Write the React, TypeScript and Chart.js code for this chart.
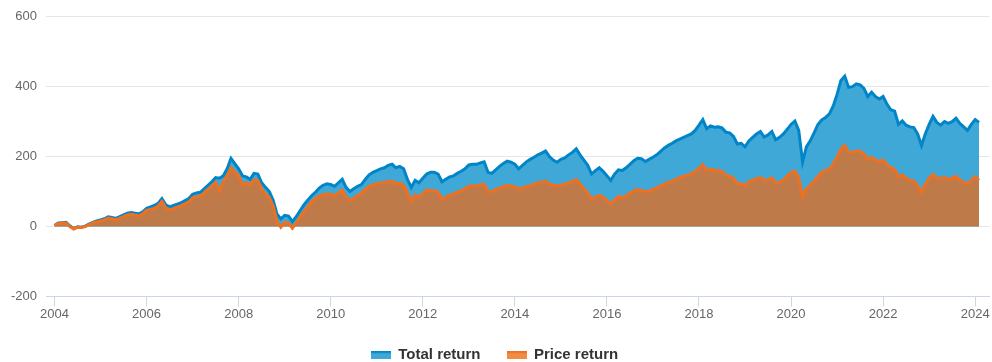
import React, { useEffect, useRef } from "react";
import { Chart, registerables } from "chart.js";

Chart.register(...registerables);

// Monthly observations starting January 2004
const startYear = 2004;

const totalReturn: number[] = [
  // 2004
  3, 10, 11, 12, 2, -6, -1, -2, 1, 7, 12, 16,
  // 2005
  19, 22, 28, 26, 23, 28, 33, 38, 40, 38, 36, 42,
  // 2006
  52, 56, 60, 66, 80, 62, 56, 60, 64, 68, 74, 80,
  // 2007
  92, 96, 98, 108, 118, 128, 140, 138, 145, 165, 195, 180,
  // 2008
  165, 145, 142, 135, 152, 150, 125, 112, 100, 75, 35, 22,
  // 2009
  32, 30, 14, 28, 45, 62, 75, 88, 98, 110, 118, 122,
  // 2010
  120, 115, 125, 135, 112, 100, 108, 115, 120, 135, 148, 155,
  // 2011
  160, 165, 168, 175, 178, 168, 172, 165, 135, 112, 132, 125,
  // 2012
  138, 150, 155, 155, 150, 128, 135, 142, 145, 152, 158, 165,
  // 2013
  176, 178, 178, 182, 185, 155, 152, 162, 172, 180, 187, 184,
  // 2014
  178, 165, 175, 185, 192, 198, 205, 210, 216, 200, 190, 184,
  // 2015
  192, 196, 205, 212, 222, 205, 190, 175, 150, 160, 168, 158,
  // 2016
  145, 132, 150, 162, 160, 168, 178, 188, 195, 194, 186, 192,
  // 2017
  198, 205, 215, 225, 232, 238, 245, 250, 255, 260, 265, 275,
  // 2018
  290, 306, 280, 288, 284, 285, 282, 270, 268, 258, 236, 238,
  // 2019
  228, 245, 255, 265, 272, 256, 262, 272, 248, 255, 265, 278,
  // 2020
  292, 302, 275, 185, 228, 245, 268, 292, 305, 312, 322, 345,
  // 2021
  378, 418, 430, 398, 400, 408, 405, 395, 372, 384, 372, 365,
  // 2022
  372, 350, 334, 330, 292, 302, 290, 285, 283, 265, 232, 265,
  // 2023
  292, 315, 298, 290, 300, 295, 300, 310, 295, 285, 275, 292,
  // 2024
  306, 298,
];

const priceReturn: number[] = [
  // 2004
  3, 9, 10, 10, 0, -7, -2, -3, 0, 5, 10, 13,
  // 2005
  16, 19, 24, 22, 19, 24, 28, 33, 35, 33, 30, 36,
  // 2006
  46, 49, 52, 58, 72, 53, 48, 51, 55, 59, 65, 70,
  // 2007
  82, 86, 86, 96, 106, 115, 126, 100, 128, 145, 168, 155,
  // 2008
  146, 120, 125, 118, 133, 132, 106, 94, 83, 58, 14, -2,
  // 2009
  12, 10, -5, 10, 26, 42, 56, 70, 80, 87, 91, 93,
  // 2010
  92, 88, 97, 104, 85, 75, 80, 88, 96, 106, 115, 119,
  // 2011
  122, 125, 126, 128, 130, 121, 125, 118, 98, 72, 90, 84,
  // 2012
  94, 104, 103, 102, 98, 78, 84, 90, 93, 98, 102, 108,
  // 2013
  115, 116, 116, 119, 121, 99, 100, 106, 110, 114, 117, 116,
  // 2014
  113, 108, 110, 114, 117, 121, 125, 127, 130, 122, 118, 116,
  // 2015
  118, 121, 125, 129, 134, 121, 109, 96, 78, 84, 89, 84,
  // 2016
  74, 65, 76, 86, 83, 88, 95, 102, 106, 104, 99, 102,
  // 2017
  106, 110, 116, 121, 126, 130, 135, 140, 144, 147, 151, 157,
  // 2018
  166, 177, 160, 164, 161, 160, 158, 146, 144, 138, 122, 122,
  // 2019
  117, 128, 133, 137, 140, 132, 134, 139, 124, 127, 132, 144,
  // 2020
  154, 158, 140, 86, 108, 118, 130, 143, 155, 160, 165, 178,
  // 2021
  198, 222, 232, 212, 212, 216, 215, 208, 192, 198, 190, 186,
  // 2022
  190, 176, 168, 164, 142, 148, 138, 132, 130, 118, 98, 120,
  // 2023
  138, 149, 140, 136, 140, 136, 138, 144, 133, 126, 122, 132,
  // 2024
  142, 132,
];

const xTickYears: number[] = [2004, 2006, 2008, 2010, 2012, 2014, 2016, 2018, 2020, 2022, 2024];
const yTickValues: number[] = [-200, 0, 200, 400, 600];
const seriesNames: string[] = ["Total return", "Price return"];

const toPoints = (vals: number[]) => vals.map((v, i) => ({ x: startYear + i / 12, y: v }));

function legendIcon(fill: string, stroke: string): HTMLCanvasElement {
  const c = document.createElement("canvas");
  c.width = 20;
  c.height = 8;
  const ctx = c.getContext("2d")!;
  ctx.fillStyle = fill;
  ctx.fillRect(0, 1, 20, 7);
  ctx.fillStyle = stroke;
  ctx.fillRect(0, 0, 20, 2.5);
  return c;
}

export default function App() {
  const ref = useRef<HTMLCanvasElement | null>(null);

  useEffect(() => {
    if (!ref.current) return;
    const blueLine = "rgb(0,134,200)";
    const blueFill = "rgb(64,168,214)";
    const orangeLine = "rgb(238,112,32)";
    const orangeFill = "rgb(191,122,74)";
    const fontFamily = "'Liberation Sans', Arial, Helvetica, sans-serif";

    const chart = new Chart(ref.current, {
      type: "line",
      data: {
        datasets: [
          {
            label: seriesNames[1],
            data: toPoints(priceReturn),
            borderColor: orangeLine,
            backgroundColor: orangeFill,
            borderWidth: 3,
            pointRadius: 0,
            fill: "origin",
            tension: 0,
            pointStyle: legendIcon("rgb(240,140,70)", orangeLine),
          },
          {
            label: seriesNames[0],
            data: toPoints(totalReturn),
            borderColor: blueLine,
            backgroundColor: blueFill,
            borderWidth: 3,
            pointRadius: 0,
            fill: "origin",
            tension: 0,
            pointStyle: legendIcon("rgb(64,168,214)", blueLine),
          },
        ],
      },
      options: {
        animation: false,
        responsive: false,
        layout: { padding: { top: 6, right: 3, left: 0, bottom: -10 } },
        scales: {
          x: {
            type: "linear",
            min: 2003.815,
            max: 2024.3,
            afterBuildTicks: (scale: any) => {
              scale.ticks = xTickYears.map((v) => ({ value: v }));
            },
            afterFit: (scale: any) => {
              scale.height = scale.height - 1;
            },
            grid: {
              drawOnChartArea: false,
              drawTicks: true,
              tickLength: 10,
              tickColor: "#ccd6eb",
              lineWidth: 1,
            },
            border: { display: true, color: "#ccd6eb", width: 1 },
            ticks: {
              color: "#666666",
              font: { size: 13, family: fontFamily },
              padding: 0,
              maxRotation: 0,
              autoSkip: false,
              callback: (v: any) => String(v),
            },
          },
          y: {
            min: -200,
            max: 600,
            afterBuildTicks: (scale: any) => {
              scale.ticks = yTickValues.map((v) => ({ value: v }));
            },
            afterFit: (scale: any) => {
              scale.width = 46;
            },
            grid: { color: "#e6e6e6", drawTicks: false, lineWidth: 1 },
            border: { display: false },
            ticks: {
              color: "#666666",
              font: { size: 13, family: fontFamily },
              padding: 9,
            },
          },
        },
        plugins: {
          legend: {
            position: "bottom",
            reverse: true,
            labels: {
              usePointStyle: true,
              pointStyleWidth: 20,
              boxHeight: 8,
              color: "#333333",
              font: { size: 15, weight: "bold", family: fontFamily },
              padding: 26,
            },
          },
          tooltip: { enabled: false },
        },
      },
    });
    return () => chart.destroy();
  }, []);

  return (
    <div style={{ position: "absolute", left: 0, top: 0, width: 992, height: 362, background: "#fff" }}>
      <canvas ref={ref} width={992} height={362} />
    </div>
  );
}
